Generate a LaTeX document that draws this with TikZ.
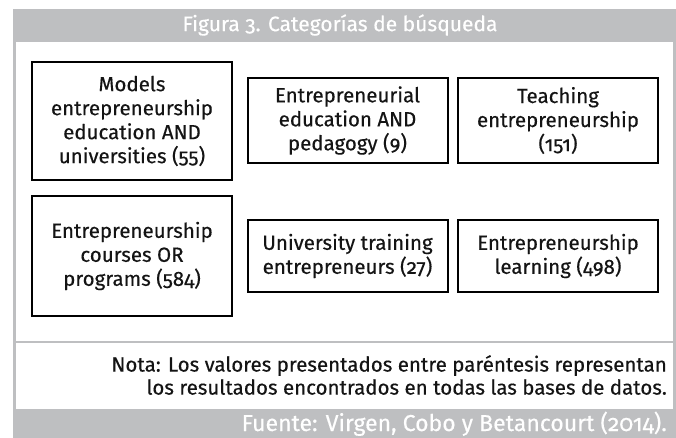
\documentclass[tikz,border=0pt]{standalone}
\usepackage{fontspec}
\setmainfont{Fira Sans}[Numbers=OldStyle, UprightFeatures={FakeBold=0.4}]
\usetikzlibrary{positioning}
\definecolor{frameGray}{RGB}{190, 191, 193}
\definecolor{textDark}{RGB}{20, 20, 20}
\tikzset{
    catBox/.style={
        rectangle, draw=black, line width=2pt,
        minimum width=200pt, inner sep=2pt,
        align=center, font=\fontsize{20.5}{24}\selectfont, text=textDark
    },
    barText/.style={
        font=\fontsize{20.5}{23}\selectfont, text=white, inner sep=0pt
    },
    frameLine/.style={
        draw=frameGray, line width=3pt
    }
}

\begin{document}
\begin{tikzpicture}[x=1pt, y=-1pt]

	\useasboundingbox (0,0) rectangle (676,438);

	% =========================================================
	% Frame
	% =========================================================

	\fill [frameGray] (13,9) rectangle (676,42);
	\fill [frameGray] (13,409) rectangle (676,438);
	\draw [frameLine] (14.5,42) -- (14.5,409);
	\draw [frameLine] (674.5,42) -- (674.5,409);
	\draw [frameLine, line width=2pt] (16,342) -- (673,342);

	\node [barText, font=\fontsize{21}{23}\selectfont] (title) at (340,25) {Figura 3. Categorías de búsqueda};

	% =========================================================
	% Search categories
	% =========================================================

	\node [catBox, minimum height=118pt] (models) at (132,121) {
		Models\\ entrepreneurship\\ education AND\\ universities (55)
	};

	\node [catBox, minimum height=85pt] (pedagogy) at (347.5,120.5) {
		Entrepreneurial\\ education AND\\ pedagogy (9)
	};

	\node [catBox, minimum height=85pt] (teaching) at (558,120.5) {
		Teaching\\ entrepreneurship\\ (151)
	};

	\node [catBox, minimum height=120pt] (courses) at (132,256) {
		Entrepreneurship\\ courses OR\\ programs (584)
	};

	\node [catBox, minimum height=72pt] (training) at (347.5,256) {
		University training\\ entrepreneurs (27)
	};

	\node [catBox, minimum height=72pt] (learning) at (558,256) {
		Entrepreneurship\\ learning (498)
	};

	% =========================================================
	% Notes
	% =========================================================

	\node [barText, text=textDark, align=right, anchor=east] (nota) at (667,375) {
		Nota: Los valores presentados entre paréntesis representan\\
		los resultados encontrados en todas las bases de datos.
	};

	\node [barText, font=\fontsize{23}{26}\selectfont, anchor=base east] (fuente) at (667,431) {Fuente: Virgen, Cobo y Betancourt (2014).};

\end{tikzpicture}
\end{document}
